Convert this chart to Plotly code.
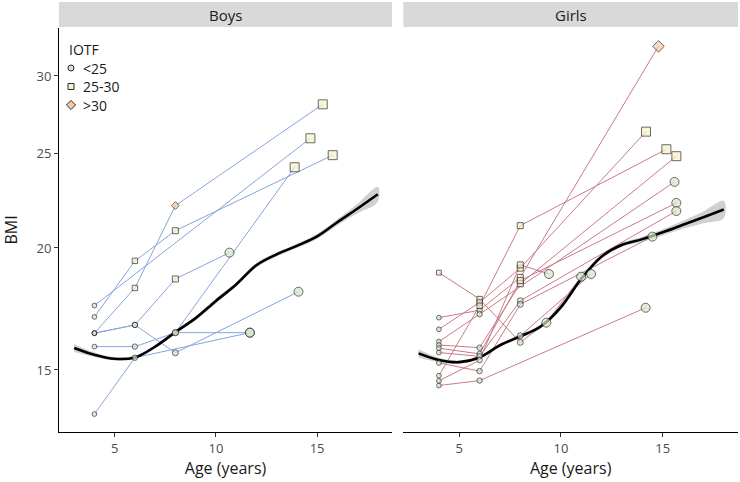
import math
import plotly.graph_objects as go

# ---------------- data ----------------
# Boys: long format (subject id, age, BMI, IOTF class)
boys_id   = [1, 1, 1, 1, 2, 2, 3, 3, 3, 3, 4, 4, 4, 4, 5, 5, 5, 5, 6, 6, 6, 6, 7, 7, 7, 8, 8]
boys_age  = [4, 6, 8, 15.77, 4, 14.67, 4, 6, 8, 15.28, 4, 6, 8, 10.67, 4, 6, 8, 14.08,
             4, 6, 8, 11.68, 4, 6, 11.68, 8, 13.89]
boys_bmi  = [17.0, 19.4, 20.83, 24.89, 17.46, 25.9, 16.36, 18.2, 22.1, 28.06,
             16.36, 16.68, 18.59, 19.78, 16.36, 16.68, 15.62, 18.04,
             15.85, 15.85, 16.38, 16.38, 13.52, 15.44, 16.38, 16.38, 24.19]
boys_iotf = ["<25", "25-30", "25-30", "25-30", "<25", "25-30", "<25", "25-30", ">30", "25-30",
             "<25", "<25", "25-30", "<25", "<25", "<25", "<25", "<25",
             "<25", "<25", "<25", "<25", "<25", "<25", "<25", "<25", "25-30"]

# Girls
girls_id   = [1, 1, 1, 1, 1, 2, 2, 2, 2, 3, 3, 3, 3, 4, 4, 4, 4, 5, 5, 5,
              6, 6, 6, 6, 7, 7, 7, 7, 8, 8, 8, 8, 9, 9, 9, 9, 10, 10, 10, 10,
              11, 11, 11, 12, 12]
girls_age  = [4, 6, 8, 9.28, 10.99, 4, 6, 8, 14.79, 4, 6, 8, 14.18, 4, 6, 8, 15.18, 4, 6, 15.58,
              4, 6, 8, 15.67, 4, 6, 8, 15.67, 4, 6, 8, 15.67, 4, 6, 8, 14.49, 4, 6, 8, 9.41,
              4, 6, 14.16, 8, 11.48]
girls_bmi  = [18.87, 17.73, 16.01, 16.77, 18.69, 16.97, 17.27, 18.66, 32.17,
              16.51, 17.59, 19.07, 26.31, 14.80, 17.45, 21.08, 25.24, 16.04, 17.11, 23.37,
              15.91, 15.81, 18.38, 24.83, 15.79, 15.58, 18.52, 22.24,
              15.63, 15.49, 17.66, 21.82, 15.25, 14.96, 17.51, 20.54,
              14.62, 15.35, 19.22, 18.81, 14.46, 14.63, 17.37, 16.26, 18.81]
girls_iotf = ["25-30", "25-30", "<25", "<25", "<25", "<25", "<25", "25-30", ">30",
              "<25", "25-30", "25-30", "25-30", "<25", "25-30", "25-30", "25-30", "<25", "<25", "<25",
              "<25", "<25", "25-30", "25-30", "<25", "<25", "25-30", "<25",
              "<25", "<25", "<25", "<25", "<25", "<25", "<25", "<25",
              "<25", "<25", "25-30", "<25", "<25", "<25", "<25", "<25", "<25"]

# Smoothed trend (loess) and half-width of its confidence band
smooth_age       = [3, 4, 5, 6, 7, 8, 9, 10, 11, 12, 13, 14, 15, 16, 17, 18]
boys_smooth_bmi  = [15.8, 15.55, 15.4, 15.45, 15.85, 16.4, 16.95, 17.65, 18.35, 19.2, 19.7, 20.1, 20.55, 21.25, 21.95, 22.7]
boys_smooth_se   = [0.15, 0.08, 0.06, 0.06, 0.06, 0.07, 0.08, 0.1, 0.1, 0.1, 0.1, 0.1, 0.12, 0.15, 0.25, 0.4]
girls_smooth_bmi = [15.6, 15.36, 15.28, 15.45, 15.9, 16.24, 16.62, 17.4, 18.6, 19.6, 20.15, 20.42, 20.75, 21.12, 21.5, 21.9]
girls_smooth_se  = [0.15, 0.08, 0.06, 0.06, 0.06, 0.07, 0.08, 0.1, 0.1, 0.1, 0.1, 0.12, 0.15, 0.2, 0.3, 0.45]

iotf_levels  = ["<25", "25-30", ">30"]
legend_title = "IOTF"
panel_titles = ["Boys", "Girls"]
y_ticks      = [15, 20, 25, 30]
x_ticks      = [5, 10, 15]

# ---------------- style ----------------
FONT = "Open Sans"
TXT = "#1a1a1a"
sym = {"<25": "circle", "25-30": "square", ">30": "diamond"}
fill = {"<25": "#d3e6c8", "25-30": "#f6f2c8", ">30": "#f6c9a2"}
line_col = {"boys": "#86a5dc", "girls": "#c97b8b"}
EDGE = "#2b2b2b"


def msize(a):
    return 3.6 + 0.3 * a if a <= 8.5 else 9.0


fig = go.Figure()


def add_panel(ids, ages, bmis, cats, sm_bmi, sm_se, xa, ya, col):
    lx, ly = [], []
    prev = None
    for i, a, b in zip(ids, ages, bmis):
        if prev is not None and i != prev:
            lx.append(None)
            ly.append(None)
        lx.append(a)
        ly.append(b)
        prev = i
    fig.add_trace(go.Scatter(x=lx, y=ly, mode="lines", line=dict(color=col, width=1),
                             xaxis=xa, yaxis=ya, showlegend=False, hoverinfo="skip"))
    up = [b + s for b, s in zip(sm_bmi, sm_se)]
    lo = [b - s for b, s in zip(sm_bmi, sm_se)]
    fig.add_trace(go.Scatter(x=smooth_age + smooth_age[::-1], y=up + lo[::-1], fill="toself",
                             fillcolor="rgba(150,150,150,0.45)", line=dict(width=0, shape="spline"),
                             mode="lines", xaxis=xa, yaxis=ya, showlegend=False, hoverinfo="skip"))
    fig.add_trace(go.Scatter(x=smooth_age, y=sm_bmi, mode="lines",
                             line=dict(color="black", width=2.6, shape="spline"),
                             xaxis=xa, yaxis=ya, showlegend=False, hoverinfo="skip"))
    for c in iotf_levels:
        px = [a for a, k in zip(ages, cats) if k == c]
        py = [b for b, k in zip(bmis, cats) if k == c]
        if not px:
            continue
        fig.add_trace(go.Scatter(x=px, y=py, mode="markers",
                                 marker=dict(symbol=sym[c], color=fill[c], size=[msize(a) for a in px],
                                             line=dict(color=EDGE, width=1)),
                                 xaxis=xa, yaxis=ya, showlegend=False))


add_panel(boys_id, boys_age, boys_bmi, boys_iotf, boys_smooth_bmi, boys_smooth_se, "x", "y", line_col["boys"])
add_panel(girls_id, girls_age, girls_bmi, girls_iotf, girls_smooth_bmi, girls_smooth_se, "x2", "y2", line_col["girls"])

# ---------------- layout geometry (pixels) ----------------
W, H = 740, 482
ML, MR, MT, MB = 59, 2, 2, 50
pw, ph = W - ML - MR, H - MT - MB
bx1 = (392 - ML) / pw
gx0 = (403.3 - ML) / pw
ytop = (432 - 28) / ph
strip0 = (432 - 27) / ph

# manual legend, placed on a helper axis measured in page pixels
leg_x_sym, leg_x_txt = 71, 81
leg_y_title, leg_y0, leg_dy = 49, 68, 18.5
for k, c in enumerate(iotf_levels):
    fig.add_trace(go.Scatter(x=[leg_x_sym], y=[leg_y0 + k * leg_dy], mode="markers",
                             marker=dict(symbol=sym[c], color=fill[c], size=6 if c != ">30" else 7,
                                         line=dict(color=EDGE, width=1)),
                             xaxis="x3", yaxis="y3", showlegend=False, hoverinfo="skip"))

xr = [2.25, 18.7]
yr = [math.log10(12.96), math.log10(33.59)]

axis_common = dict(showgrid=False, zeroline=False, ticks="outside", ticklen=4, tickcolor="#333333",
                   automargin=False, tickfont=dict(family=FONT, size=13, color="#4d4d4d"))
title_font = dict(family=FONT, size=16, color=TXT)

annotations = [
    dict(text=panel_titles[0], xref="paper", yref="paper", x=bx1 / 2, y=(strip0 + 1) / 2, showarrow=False,
         font=dict(size=15, color=TXT), xanchor="center", yanchor="middle"),
    dict(text=panel_titles[1], xref="paper", yref="paper", x=(gx0 + 1) / 2, y=(strip0 + 1) / 2, showarrow=False,
         font=dict(size=15, color=TXT), xanchor="center", yanchor="middle"),
    dict(text=legend_title, xref="x3", yref="y3", x=leg_x_sym - 4, y=leg_y_title, showarrow=False,
         font=dict(size=14, color=TXT), xanchor="left", yanchor="middle"),
]
for k, c in enumerate(iotf_levels):
    annotations.append(dict(text=c, xref="x3", yref="y3", x=leg_x_txt, y=leg_y0 + k * leg_dy, showarrow=False,
                            font=dict(size=14, color=TXT), xanchor="left", yanchor="middle"))

fig.update_layout(
    width=W, height=H,
    margin=dict(l=ML, r=MR, t=MT, b=MB, autoexpand=False),
    paper_bgcolor="white", plot_bgcolor="rgba(0,0,0,0)",
    font=dict(family=FONT),
    showlegend=False,
    xaxis=dict(domain=[0, bx1], range=xr, tickvals=x_ticks, showline=True, linecolor="black", linewidth=1,
               title=dict(text="Age (years)", font=title_font, standoff=5), anchor="y", **axis_common),
    xaxis2=dict(domain=[gx0, 1], range=xr, tickvals=x_ticks, showline=True, linecolor="black", linewidth=1,
                title=dict(text="Age (years)", font=title_font, standoff=5), anchor="y2", **axis_common),
    yaxis=dict(domain=[0, ytop], type="log", range=yr, tickvals=y_ticks, showline=True, linecolor="black", linewidth=1,
               title=dict(text="BMI", font=title_font, standoff=20), anchor="x", **axis_common),
    yaxis2=dict(domain=[0, ytop], type="log", range=yr, tickvals=y_ticks, showline=False, showticklabels=False,
                ticks="", anchor="x2", showgrid=False, zeroline=False, automargin=False),
    xaxis3=dict(domain=[0, 1], range=[ML, W - MR], visible=False, anchor="y3", fixedrange=True),
    yaxis3=dict(domain=[0, 1], range=[H - MB, MT], visible=False, anchor="x3", fixedrange=True),
    shapes=[
        dict(type="rect", xref="paper", yref="paper", x0=0, x1=bx1, y0=strip0, y1=1.0,
             fillcolor="#d9d9d9", line=dict(width=0), layer="below"),
        dict(type="rect", xref="paper", yref="paper", x0=gx0, x1=1, y0=strip0, y1=1.0,
             fillcolor="#d9d9d9", line=dict(width=0), layer="below"),
    ],
    annotations=annotations,
)

fig.write_html("out.html", config={"displayModeBar": False},
               post_script="document.body.style.margin='0px';")
